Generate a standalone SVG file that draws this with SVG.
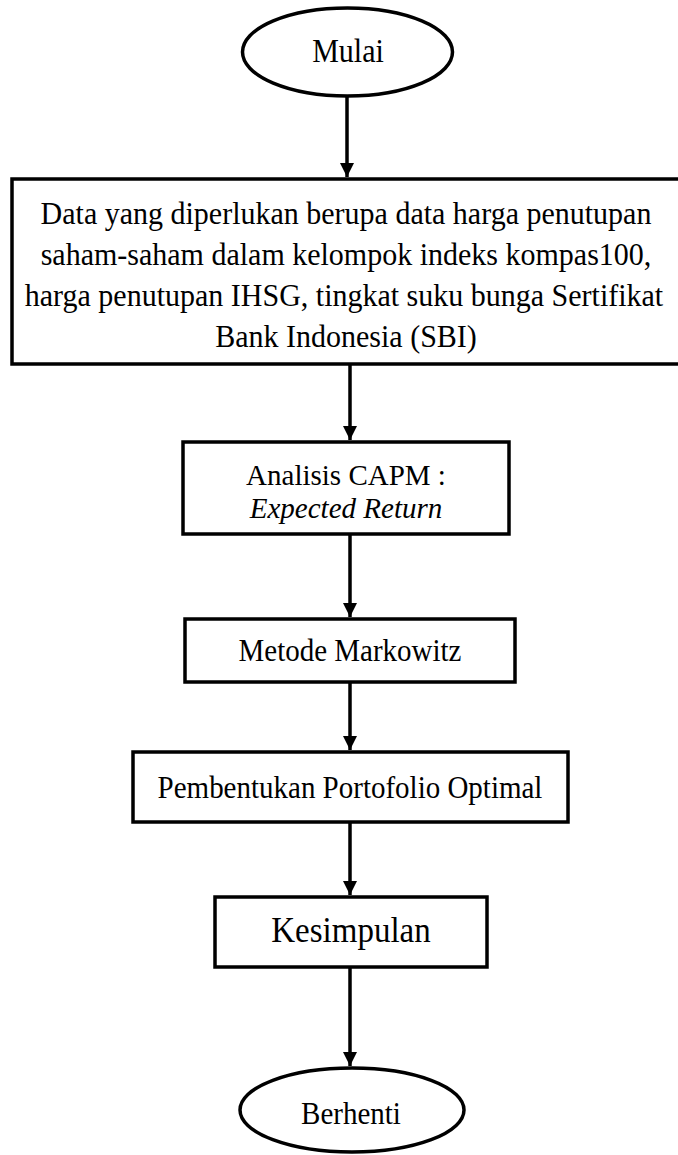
<svg xmlns="http://www.w3.org/2000/svg" width="678" height="1155" viewBox="0 0 678 1155">
<style>
.shape{fill:#fff;stroke:#000;stroke-width:3.5}
.t{font-family:"Liberation Serif","Times New Roman",serif;font-size:29px;fill:#000;text-anchor:middle}
.conn{stroke:#000;stroke-width:3.5;fill:none}
</style>
<defs>
<marker id="ah" viewBox="0 0 10 10" refX="10" refY="5" markerWidth="4" markerHeight="4" markerUnits="strokeWidth" orient="auto">
<path d="M0,0 L10,5 L0,10 z" fill="#000"/>
</marker>
</defs>
<g id="mulai">
<ellipse class="shape" cx="347.5" cy="52" rx="105" ry="44"/>
<text class="t" transform="translate(348,62) scale(1,1.1)" style="font-size:30px">Mulai</text>
</g>
<g id="data">
<rect class="shape" x="12" y="179" width="680" height="185"/>
<text class="t" transform="translate(346,224) scale(1,1.08)" style="font-size:30px">Data yang diperlukan berupa data harga penutupan</text>
<text class="t" transform="translate(346,265) scale(1,1.08)" style="font-size:30px">saham-saham dalam kelompok indeks kompas100,</text>
<text class="t" transform="translate(344,306) scale(1,1.08)" style="font-size:30px">harga penutupan IHSG, tingkat suku bunga Sertifikat</text>
<text class="t" transform="translate(346,347) scale(1,1.08)" style="font-size:30px">Bank Indonesia (SBI)</text>
</g>
<g id="capm">
<rect class="shape" x="183" y="442" width="326" height="92"/>
<text class="t" x="346" y="485">Analisis CAPM :</text>
<text class="t" x="346" y="518" style="font-style:italic">Expected Return</text>
</g>
<g id="markowitz">
<rect class="shape" x="185" y="619" width="330" height="63"/>
<text class="t" transform="translate(350,661) scale(1,1.1)">Metode Markowitz</text>
</g>
<g id="portofolio">
<rect class="shape" x="133" y="752" width="435" height="70"/>
<text class="t" transform="translate(350,798) scale(1,1.1)">Pembentukan Portofolio Optimal</text>
</g>
<g id="kesimpulan">
<rect class="shape" x="215" y="897" width="272" height="70"/>
<text class="t" transform="translate(351,942) scale(1,1.1)" style="font-size:33px">Kesimpulan</text>
</g>
<g id="berhenti">
<ellipse class="shape" cx="352" cy="1110" rx="112" ry="42"/>
<text class="t" transform="translate(351,1124) scale(1,1.1)">Berhenti</text>
</g>
<g id="connectors">
<line class="conn" x1="347" y1="96" x2="347" y2="177" marker-end="url(#ah)"/>
<line class="conn" x1="350" y1="364" x2="350" y2="440" marker-end="url(#ah)"/>
<line class="conn" x1="350" y1="534" x2="350" y2="617" marker-end="url(#ah)"/>
<line class="conn" x1="350" y1="682" x2="350" y2="750" marker-end="url(#ah)"/>
<line class="conn" x1="350" y1="822" x2="350" y2="895" marker-end="url(#ah)"/>
<line class="conn" x1="350" y1="967" x2="350" y2="1066" marker-end="url(#ah)"/>
</g>
</svg>
